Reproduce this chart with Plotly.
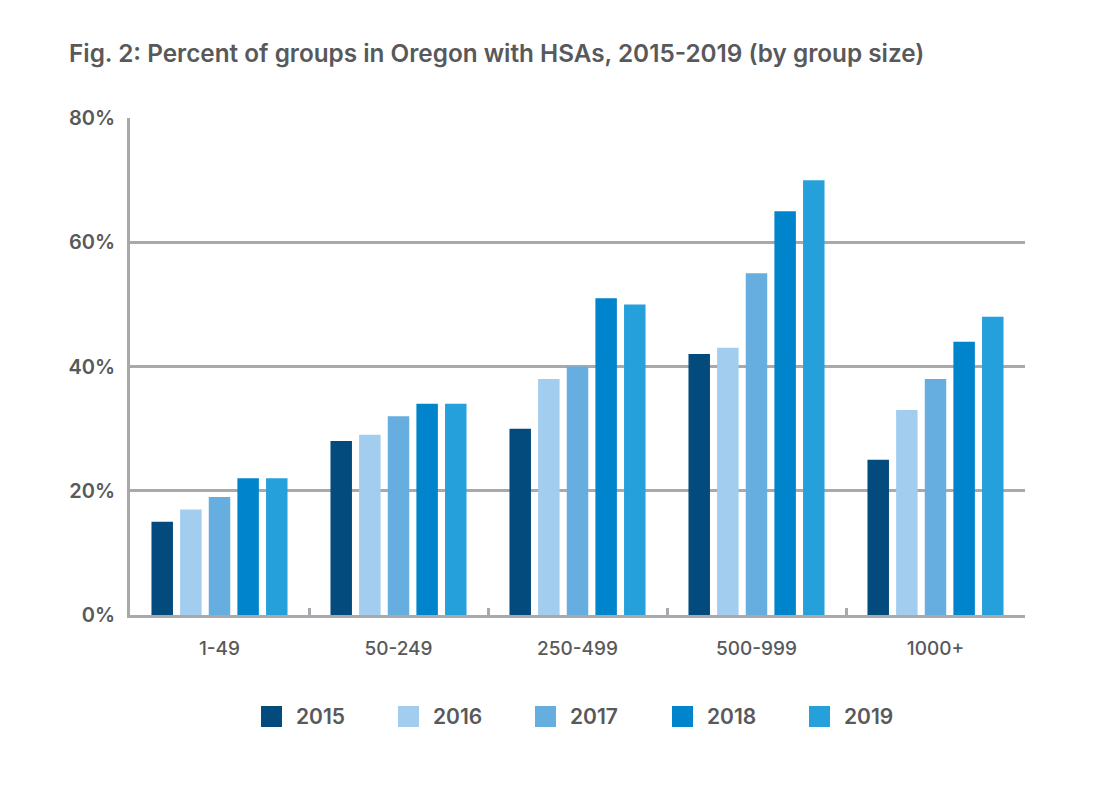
import plotly.graph_objects as go

categories = ["1-49", "50-249", "250-499", "500-999", "1000+"]
years = ["2015", "2016", "2017", "2018", "2019"]
values_2015 = [15, 28, 30, 42, 25]
values_2016 = [17, 29, 38, 43, 33]
values_2017 = [19, 32, 40, 55, 38]
values_2018 = [22, 34, 51, 65, 44]
values_2019 = [22, 34, 50, 70, 48]
series = [values_2015, values_2016, values_2017, values_2018, values_2019]
colors = ["#024B7C", "#A2CDEE", "#66AEDF", "#0084CC", "#26A0DB"]
y_ticks = [0, 20, 40, 60, 80]
y_ticktext = ["0%", "20%", "40%", "60%", "80%"]

grid = "#A7A9AC"
txt = "#58595B"
font = "Inter"
W, H = 1109, 806
L, R, T, B = 130, 84, 118, 191

fig = go.Figure()
for y, vals, c in zip(years, series, colors):
    fig.add_trace(go.Bar(x=categories, y=vals, name=y, showlegend=False,
                         marker=dict(color=c, line=dict(width=0))))

# manual legend (larger swatches like the reference)
pw = W - L - R
ph = H - T - B
leg_x0, leg_step, leg_yc, sw = 261, 137, 716.5, 21
for i, (y, c) in enumerate(zip(years, colors)):
    x0 = leg_x0 + i * leg_step
    fig.add_shape(type="rect", xref="paper", yref="paper",
                  x0=(x0 - L) / pw, x1=(x0 + sw - L) / pw,
                  y0=(H - B - (leg_yc + sw / 2)) / ph, y1=(H - B - (leg_yc - sw / 2)) / ph,
                  fillcolor=c, line=dict(width=0))
    fig.add_annotation(xref="paper", yref="paper", x=(x0 + 33 - L) / pw, y=(H - B - leg_yc) / ph,
                       text=y, showarrow=False, xanchor="left", yanchor="middle",
                       font=dict(size=21, color=txt, family=font, weight=600))

fig.update_layout(
    width=W, height=H,
    paper_bgcolor="white", plot_bgcolor="white",
    margin=dict(l=L, r=R, t=T, b=B),
    barmode="group", bargap=0.2, bargroupgap=0.25,
    font=dict(family=font, color=txt),
    title=dict(text="Fig. 2: Percent of groups in Oregon with HSAs, 2015-2019 (by group size)",
               x=69/W, xanchor="left", y=1-53/H, yanchor="middle",
               font=dict(size=24.3, color=txt, family=font, weight=600)),
    showlegend=False,
)
fig.update_yaxes(range=[0, 80], tickvals=y_ticks, ticktext=y_ticktext,
                 showgrid=True, gridcolor=grid, gridwidth=3, zeroline=False,
                 showline=True, linecolor=grid, linewidth=3,
                 tickfont=dict(size=20, color=txt, family=font, weight=600), ticks="", ticklabelstandoff=8)
fig.update_xaxes(showline=True, linecolor=grid, linewidth=3, showgrid=False,
                 ticks="inside", tickson="boundaries", ticklen=7, tickwidth=3, tickcolor=grid,
                 tickfont=dict(size=19, color=txt, family=font, weight=500), ticklabelstandoff=14)

fig.write_html("out.html")
